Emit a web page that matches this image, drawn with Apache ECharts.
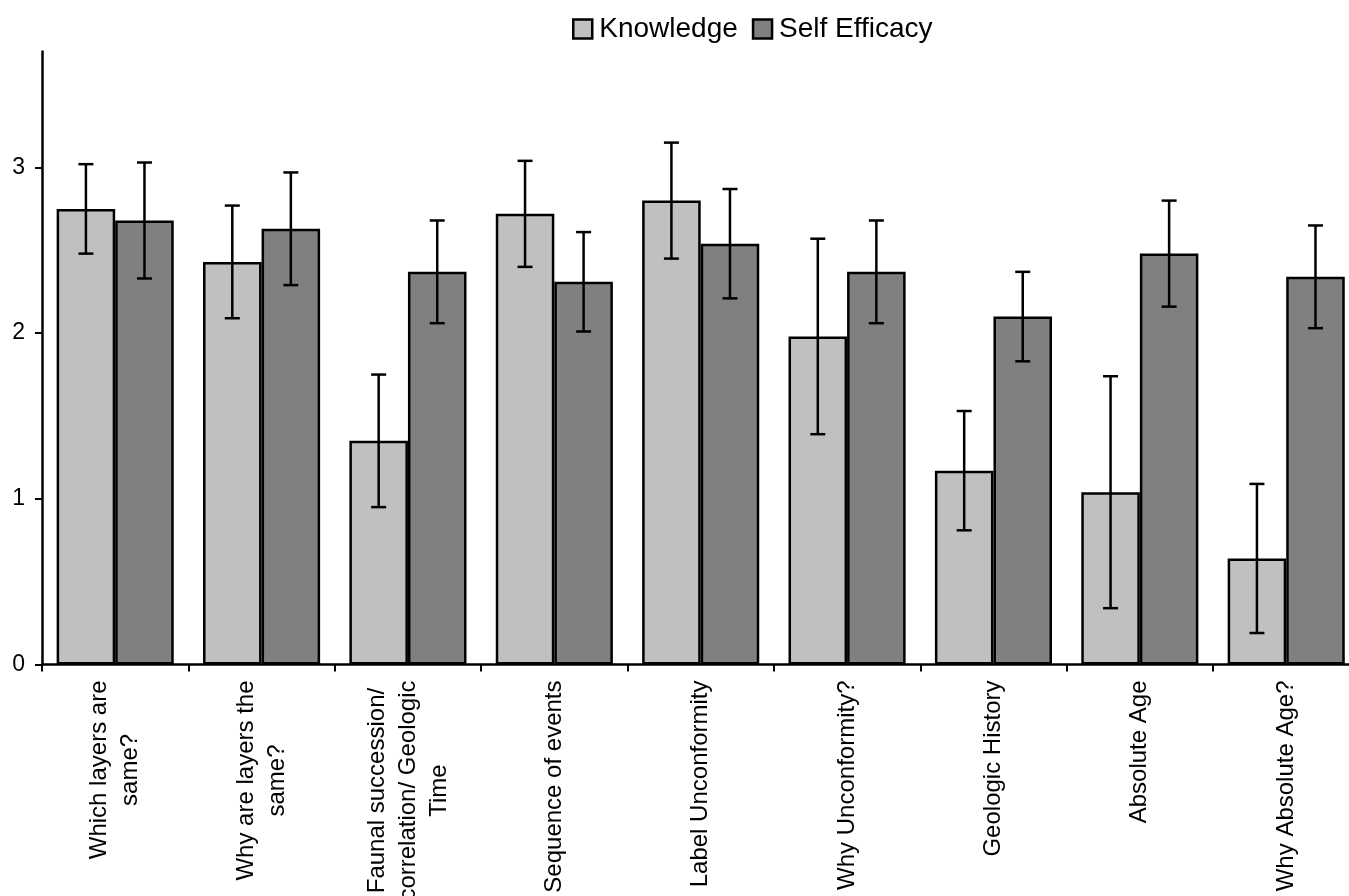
<!DOCTYPE html>
<html>
<head>
<meta charset="utf-8">
<style>
  html, body { margin: 0; padding: 0; background: #fff; }
  #chart { width: 1349px; height: 896px; }
</style>
<script src="https://cdn.jsdelivr.net/npm/echarts@6/dist/echarts.min.js"></script>
</head>
<body>
<div id="chart"></div>
<script>
// Topic categories (line breaks as printed under the axis)
const categories = [
  'Which layers are\nsame?',
  'Why are layers the\nsame?',
  'Faunal succession/\ncorrelation/ Geologic\nTime',
  'Sequence of events',
  'Label Unconformity',
  'Why Unconformity?',
  'Geologic History',
  'Absolute Age',
  'Why Absolute Age?'
];

// Mean scores and error half-widths
const knowledge    = [2.75, 2.43, 1.35, 2.72, 2.80, 1.98, 1.17, 1.04, 0.64];
const knowledgeErr = [0.27, 0.34, 0.40, 0.32, 0.35, 0.59, 0.36, 0.70, 0.45];
const efficacy     = [2.68, 2.63, 2.37, 2.31, 2.54, 2.37, 2.10, 2.48, 2.34];
const efficacyErr  = [0.35, 0.34, 0.31, 0.30, 0.33, 0.31, 0.27, 0.32, 0.31];

// Value-axis tick labels
const yTicks = [0, 1, 2, 3];

const FONT = '"Liberation Sans", Arial, sans-serif';
const LIGHT = '#c0c0c0';
const DARK = '#808080';

// Error bar drawn at a bar centre shifted by `shift` bands from the category centre
function errorBars(shift) {
  return function (params, api) {
    const i = api.value(0);
    const v = api.value(1);
    const e = api.value(2);
    const band = api.size([1, 0])[0];
    const x = api.coord([i, v])[0] + shift * band;
    const yTop = api.coord([i, v + e])[1];
    const yBot = api.coord([i, v - e])[1];
    const cap = 7.5;
    const style = { stroke: '#000', lineWidth: 2.5 };
    return {
      type: 'group',
      children: [
        { type: 'line', shape: { x1: x, y1: yTop, x2: x, y2: yBot }, style },
        { type: 'line', shape: { x1: x - cap, y1: yTop, x2: x + cap, y2: yTop }, style },
        { type: 'line', shape: { x1: x - cap, y1: yBot, x2: x + cap, y2: yBot }, style }
      ]
    };
  };
}

const chart = echarts.init(document.getElementById('chart'), null, { renderer: 'canvas' });

chart.setOption({
  animation: false,
  backgroundColor: '#fff',
  textStyle: { fontFamily: FONT, color: '#000' },
  legend: {
    data: ['Knowledge', 'Self Efficacy'],
    left: 567,
    top: 10,
    itemWidth: 19,
    itemHeight: 19,
    itemGap: 14,
    icon: 'rect',
    itemStyle: { borderColor: '#000', borderWidth: 2.5 },
    textStyle: { fontFamily: FONT, fontSize: 28, color: '#000', padding: [0, 0, 0, 2] }
  },
  grid: {
    left: 42,
    top: 51.5,
    width: 1317.4,
    bottom: 231.5,
    containLabel: false,
    outerBoundsMode: 'none'
  },
  xAxis: {
    type: 'category',
    data: categories,
    boundaryGap: true,
    axisLine: { show: true, lineStyle: { color: '#000', width: 2.5 } },
    axisTick: { show: true, length: 7, lineStyle: { color: '#000', width: 2 }, alignWithLabel: false },
    axisLabel: {
      interval: 0,
      rotate: 90,
      margin: 16,
      fontFamily: FONT,
      fontSize: 24,
      color: '#000',
      lineHeight: 31,
      formatter: function (val) {
        return val.split('\n').map(function (l) { return '{c|' + l + '}'; }).join('\n');
      },
      rich: {
        c: { align: 'center', fontFamily: FONT, fontSize: 24, lineHeight: 31, color: '#000' }
      }
    }
  },
  yAxis: {
    type: 'value',
    min: 0,
    max: 3.7,
    interval: 1,
    splitLine: { show: false },
    axisLine: { show: true, lineStyle: { color: '#000', width: 2.5 } },
    axisTick: { show: true, length: 7, lineStyle: { color: '#000', width: 2 }, customValues: yTicks },
    axisLabel: {
      customValues: yTicks,
      margin: 17,
      fontFamily: FONT,
      fontSize: 23,
      color: '#000'
    }
  },
  series: [
    {
      name: 'Knowledge',
      type: 'bar',
      data: knowledge,
      barGap: '0%',
      barCategoryGap: '20%',
      itemStyle: { color: LIGHT, borderColor: '#000', borderWidth: 2.5 }
    },
    {
      name: 'Self Efficacy',
      type: 'bar',
      data: efficacy,
      barGap: '0%',
      barCategoryGap: '20%',
      itemStyle: { color: DARK, borderColor: '#000', borderWidth: 2.5 }
    },
    {
      name: 'knowledge-error',
      type: 'custom',
      renderItem: errorBars(-0.2),
      data: knowledge.map(function (v, i) { return [i, v, knowledgeErr[i]]; }),
      encode: { x: 0, y: 1 },
      z: 10,
      silent: true
    },
    {
      name: 'efficacy-error',
      type: 'custom',
      renderItem: errorBars(0.2),
      data: efficacy.map(function (v, i) { return [i, v, efficacyErr[i]]; }),
      encode: { x: 0, y: 1 },
      z: 10,
      silent: true
    }
  ]
});
</script>
</body>
</html>
